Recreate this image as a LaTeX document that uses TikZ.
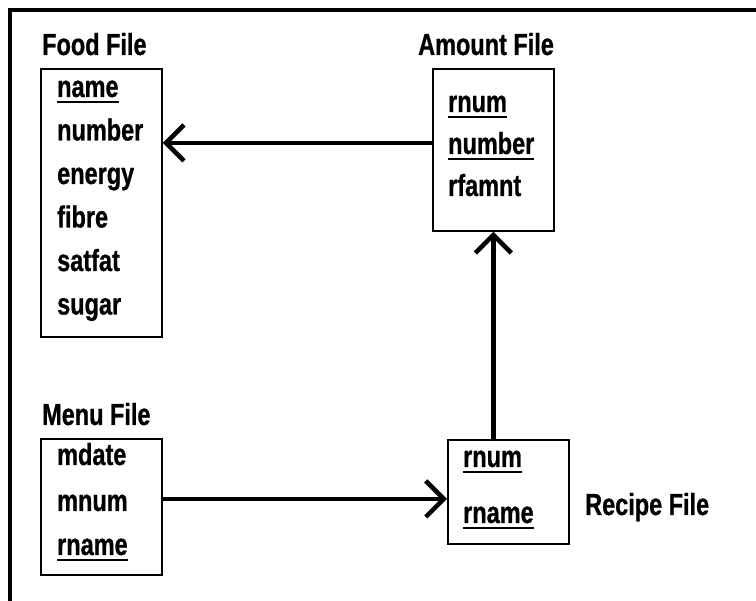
\documentclass[tikz,border=0pt]{standalone}
\usepackage{fontspec}
\setmainfont{Liberation Sans}[FakeStretch=0.77, BoldFeatures={FakeBold=0.8}]
\usetikzlibrary{positioning, arrows.meta}

% key field: text with a rule under it
\newcommand\keyfield[1]{\setbox0\hbox{#1}\rlap{\rule[-6pt]{\wd0}{2pt}}\box0}

\begin{document}
\begin{tikzpicture}[
    x=1pt, y=-1pt,
    every node/.style={inner sep=0pt, font=\fontsize{30.5}{36}\selectfont\bfseries},
    filebox/.style={draw, line width=1.8pt, anchor=north west},
    field/.style={anchor=base west},
    link/.style={line width=4.5pt, -{Straight Barb[length=18pt, width=36pt]}}
]
\useasboundingbox (0,0) rectangle (756,601);

% frame
\draw[line width=4.5pt] (10,601) -- (10,10) -- (756,10);

% Food File
\node[field] (foodtitle) at (42,55) {Food File};
\node[filebox, minimum width=121pt, minimum height=268pt] (food) at (40,68) {};
\node[field] (food1) at (57,97) {\keyfield{name}};
\node[field] (food2) at (57,140.5) {number};
\node[field] (food3) at (57,184) {energy};
\node[field] (food4) at (57,227.5) {fibre};
\node[field] (food5) at (57,271) {satfat};
\node[field] (food6) at (57,314.5) {sugar};

% Amount File
\node[field] (amttitle) at (418,55) {Amount File};
\node[filebox, minimum width=121pt, minimum height=162pt] (amount) at (432,68) {};
\node[field] (amt1) at (448,112) {\keyfield{rnum}};
\node[field] (amt2) at (448,154) {\keyfield{number}};
\node[field] (amt3) at (448,196) {rfamnt};

% Menu File
\node[field] (menutitle) at (42,425) {Menu File};
\node[filebox, minimum width=121pt, minimum height=136pt] (menu) at (40,438) {};
\node[field] (menu1) at (57,465) {mdate};
\node[field] (menu2) at (57,511) {mnum};
\node[field] (menu3) at (57,555) {\keyfield{rname}};

% Recipe File
\node[filebox, minimum width=121pt, minimum height=104pt] (recipe) at (447,439) {};
\node[field] (rec1) at (463,467) {\keyfield{rnum}};
\node[field] (rec2) at (463,523) {\keyfield{rname}};
\node[field] (rectitle) at (585,515) {Recipe File};

% links
\draw[link] ([yshift=7pt]amount.west) -- ([yshift=7pt]amount.west -| food.east);
\draw[link] (amount.south |- recipe.north) -- (amount.south);
\draw[link] ([yshift=8pt]menu.east) -- ([yshift=8pt]menu.east -| recipe.west);
\end{tikzpicture}
\end{document}
